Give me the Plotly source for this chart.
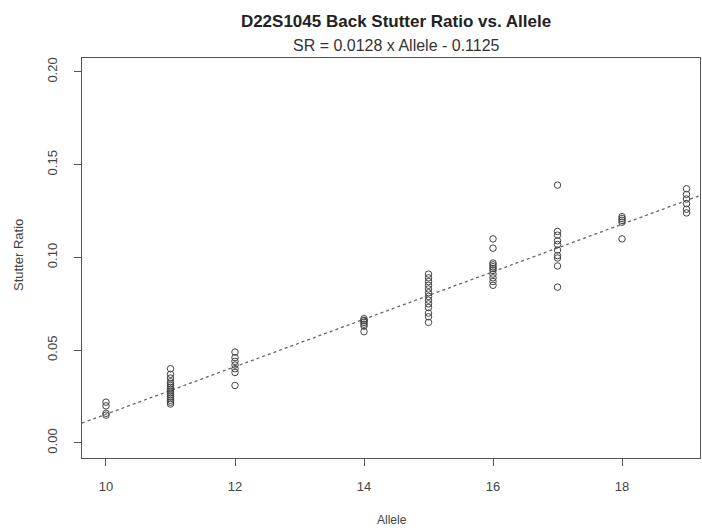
import plotly.graph_objects as go

# Data
allele_10 = [0.022, 0.020, 0.016, 0.015]
allele_11 = [0.040, 0.037, 0.035, 0.033, 0.032, 0.031, 0.030, 0.029, 0.028,
             0.027, 0.026, 0.025, 0.024, 0.023, 0.022, 0.021]
allele_12 = [0.049, 0.046, 0.044, 0.042, 0.040, 0.038, 0.031]
allele_14 = [0.067, 0.066, 0.066, 0.065, 0.064, 0.063, 0.060]
allele_15 = [0.091, 0.089, 0.087, 0.085, 0.083, 0.081, 0.079, 0.077, 0.075,
             0.073, 0.070, 0.068, 0.065]
allele_16 = [0.110, 0.105, 0.097, 0.096, 0.095, 0.094, 0.093, 0.091, 0.089,
             0.087, 0.085]
allele_17 = [0.139, 0.114, 0.112, 0.109, 0.107, 0.104, 0.101, 0.0997, 0.0954, 0.084]
allele_18 = [0.122, 0.121, 0.120, 0.119, 0.110]
allele_19 = [0.137, 0.134, 0.1315, 0.129, 0.126, 0.124]

groups = {10: allele_10, 11: allele_11, 12: allele_12, 14: allele_14,
          15: allele_15, 16: allele_16, 17: allele_17, 18: allele_18, 19: allele_19}

slope = 0.0128
intercept = -0.1125
x_range = [9.628, 19.209]
y_range = [-0.0081, 0.2075]
x_ticks = [10, 12, 14, 16, 18]
y_ticks = [0.00, 0.05, 0.10, 0.15, 0.20]
y_tick_text = ["0.00", "0.05", "0.10", "0.15", "0.20"]

xs, ys = [], []
for a, vals in groups.items():
    xs += [a] * len(vals)
    ys += vals

fig = go.Figure()
fig.add_trace(go.Scatter(
    x=x_range, y=[slope * v + intercept for v in x_range], mode="lines",
    line=dict(color="#666666", width=1.3, dash="dot"), showlegend=False))
fig.add_trace(go.Scatter(
    x=xs, y=ys, mode="markers",
    marker=dict(symbol="circle-open", size=6.5, color="#444444", line=dict(width=1)),
    showlegend=False))

font = "Liberation Sans, Arial, sans-serif"
fig.update_layout(
    width=702, height=528,
    margin=dict(l=82, r=2, t=58, b=70),
    paper_bgcolor="white", plot_bgcolor="white",
    font=dict(family=font, color="#444444", size=12),
    title=dict(text="<b>D22S1045 Back Stutter Ratio vs. Allele</b>",
               x=396 / 702, xanchor="center", y=1 - 21 / 528, yanchor="middle",
               font=dict(size=17, color="#222222")),
    annotations=[
        dict(text="SR = 0.0128 x Allele - 0.1125", xref="paper", yref="paper",
             x=(396 - 82) / 618, y=1 + 12 / 400, xanchor="center", yanchor="middle",
             showarrow=False, font=dict(size=16, color="#333333")),
        dict(text="Stutter Ratio", xref="paper", yref="paper",
             x=(18 - 82) / 618, y=(458 - 255) / 400, xanchor="center", yanchor="middle",
             textangle=-90, showarrow=False, font=dict(size=13, color="#444444")),
        dict(text="Allele", xref="paper", yref="paper",
             x=(392 - 82) / 618, y=-(520 - 458) / 400, xanchor="center", yanchor="middle",
             showarrow=False, font=dict(size=12, color="#444444")),
    ],
    xaxis=dict(range=x_range, tickvals=x_ticks, showgrid=False, zeroline=False,
               showline=True, linecolor="#555555", linewidth=1, mirror=True,
               ticks="outside", ticklen=7, tickcolor="#555555",
               ticklabelstandoff=9,
               tickfont=dict(size=13, color="#444444")),
    yaxis=dict(range=y_range, tickvals=y_ticks, ticktext=y_tick_text,
               showgrid=False, zeroline=False,
               showline=True, linecolor="#555555", linewidth=1, mirror=True,
               ticks="outside", ticklen=7, tickcolor="#555555", tickangle=-90,
               ticklabelstandoff=12,
               tickfont=dict(size=13, color="#444444")),
)

fig.write_html("out.html")
